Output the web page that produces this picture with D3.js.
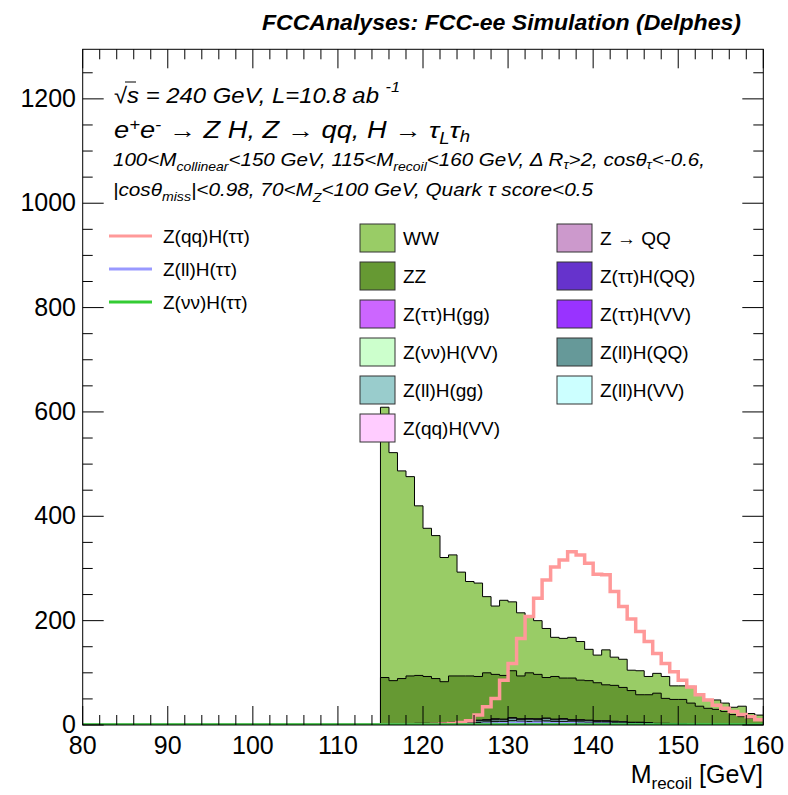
<!DOCTYPE html>
<html><head><meta charset="utf-8">
<script src="https://cdn.jsdelivr.net/npm/d3@7"></script>
<style>body{margin:0;background:#fff}svg{display:block;font-family:"Liberation Sans",Arial,sans-serif}</style>
</head><body><svg id="c" width="788" height="795"></svg>
<script>
// ---------------- data ----------------
const binStart = 115;           // first filled bin (GeV); 1 GeV bins up to 160
const xTicksMajor = [80, 90, 100, 110, 120, 130, 140, 150, 160];
const yTicksMajor = [0, 200, 400, 600, 800, 1000, 1200];

// total stack height (all backgrounds), bins 115..159
const totalStack = [609,522,487,476,420,377,363,321,326,293,275,272,246,228,239,236,215,208,200,185,168,166,168,160,145,134,144,130,126,105,104,93,99,93,75,75,74,59,49,48,42,34,36,22,19];
// ZZ + small backgrounds cumulative, bins 115..159
const zzCum = [91,85,89,94,95,93,89,83,94,94,94,93,100,97,95,104,94,100,97,91,93,90,90,86,85,81,77,76,72,66,58,58,61,51,49,49,42,36,32,30,26,20,16,13,11];
// small backgrounds, bins 115..159
const zttHQQ = [0,0,0,0,0,0,0,0,1,1,1,1,2,2,2,3,2,2,2,2,2,2,2,2,1,1,1,1,1,1,1,1,0,0,0,0,0,0,0,0,0,0,0,0,0];
const zllHQQ = [0,0,0,1,2,2,2,2,2,3,3,4,4,5,5,6,5,5,5,6,5,5,4,4,4,4,4,3,3,2,2,2,2,2,1,1,1,1,0,0,0,0,0,0,0];
const zllHgg = [0,0,0,1,1,1,1,2,2,2,2,3,3,3,3,4,3,4,3,4,3,4,3,3,3,2,2,2,2,2,2,1,1,1,1,1,0,0,0,0,0,0,0,0,0];
const zQQ    = [0,0,0,0,0,0,0,0,0,0,1,1,1,1,1,1,1,1,1,1,1,1,1,1,1,1,1,1,0,0,0,0,0,0,0,0,0,0,0,0,0,0,0,0,0];
const zqqHVV = [0,0,0,0,0,0,0,0,0,0,0,0,0,1,0,0,1,0,1,0,0,0,0,0,0,0,0,0,0,0,0,0,0,0,0,0,0,0,0,0,0,0,0,0,0];
// signals, bins 115..159
const sigZqqHtt = [0,0,0,0,0,0.5,1,2,3,5,8,19,35,51,86,118,166,208,243,278,303,316,332,326,310,289,288,256,227,203,179,160,137,118,102,86,73,58,48,38,32,26,20,16,10];
const sigZllHtt = [0,0,0,0,0,0,0,0,0,0,1,1,2,2,3,3,4,3,4,3,3,3,3,2,2,2,2,1,1,1,1,1,0,0,0,0,0,0,0,0,0,0,0,0,0];
const sigZvvHtt = [0,0,0,0,0,0,0,0,0,0,0,0,0,0,0,0,0,0,0,0,0,0,0,0,0,0,0,0,0,0,0,0,0,0,0,0,0,0,0,0,0,0,0,0,0];

const legendLines = [["Z(qq)H(ττ)","#ff9999"],["Z(ll)H(ττ)","#9999ff"],["Z(νν)H(ττ)","#33cc33"]];
const legendCol1 = [["WW","#99cc66"],["ZZ","#669933"],["Z(ττ)H(gg)","#cc66ff"],["Z(νν)H(VV)","#ccffcc"],["Z(ll)H(gg)","#99cccc"],["Z(qq)H(VV)","#ffccff"]];
const legendCol2 = [["Z → QQ","#cc99cc"],["Z(ττ)H(QQ)","#6633cc"],["Z(ττ)H(VV)","#9933ff"],["Z(ll)H(QQ)","#669999"],["Z(ll)H(VV)","#ccffff"]];

// ---------------- layout ----------------
const svg = d3.select("#c");
const L = 82.7, R = 763.3, T = 49.3, B = 725;
const x = d3.scaleLinear().domain([80,160]).range([L,R]);
const y = d3.scaleLinear().domain([0,1295]).range([B,T]);

// full-range step arrays (80..160), zero outside filled bins
function full(arr){
  const pts = [];
  for(let e=80; e<160; e++){
    const i = e - binStart;
    pts.push([e, (i>=0 && i<arr.length) ? arr[i] : 0]);
  }
  pts.push([160, pts[pts.length-1][1]]);
  return pts;
}
function cum(...arrs){ return arrs[0].map((_,i)=>arrs.reduce((s,a)=>s+a[i],0)); }

const smallSum = cum(zttHQQ,zllHQQ,zllHgg,zQQ,zqqHVV);
const zzOnly = zzCum.map((v,i)=>Math.max(0,v-smallSum[i]));
const wwOnly = totalStack.map((v,i)=>v-zzCum[i]);

// stack order bottom -> top
const layers = [
  {v:zttHQQ, c:"#6633cc"},
  {v:zllHQQ, c:"#669999"},
  {v:zllHgg, c:"#99cccc"},
  {v:zQQ,    c:"#cc99cc"},
  {v:zqqHVV, c:"#ffccff"},
  {v:zzOnly, c:"#669933"},
  {v:wwOnly, c:"#99cc66"}
];
let running = layers[0].v.map(()=>0);
layers.forEach(l=>{ running = running.map((r,i)=>r+l.v[i]); l.cum = running.slice(); });

const clipId = "plotclip";
svg.append("clipPath").attr("id",clipId).append("rect").attr("x",L).attr("y",T).attr("width",R-L).attr("height",B-T);
const g = svg.append("g").attr("clip-path","url(#"+clipId+")");

const area = d3.area().curve(d3.curveStepAfter).x(d=>x(d[0])).y0(y(0)).y1(d=>y(d[1]));
const line = d3.line().curve(d3.curveStepAfter).x(d=>x(d[0])).y(d=>y(d[1]));

// draw largest cumulative first (ROOT THStack style)
layers.slice().reverse().forEach(l=>{
  const pts = full(l.cum);
  g.append("path").attr("d",area(pts)).attr("fill",l.c).attr("stroke","none");
  g.append("path").attr("d",line(pts)).attr("fill","none").attr("stroke","#000").attr("stroke-width",1);
});

// signals
g.append("path").attr("d",line(full(sigZqqHtt))).attr("fill","none").attr("stroke","#ff9999").attr("stroke-width",3.5);
g.append("path").attr("d",line(full(sigZllHtt))).attr("fill","none").attr("stroke","#9999ff").attr("stroke-width",3);
g.append("path").attr("d",line(full(sigZvvHtt))).attr("fill","none").attr("stroke","#33cc33").attr("stroke-width",3.5);

// ---------------- axes / frame ----------------
const ax = svg.append("g").attr("stroke","#000").attr("stroke-width",1);
const xMinor = d3.range(80,160.001,2);
xMinor.forEach(v=>{
  const major = xTicksMajor.includes(v);
  const len = major?19:10;
  ax.append("line").attr("x1",x(v)).attr("x2",x(v)).attr("y1",B).attr("y2",B-len);
  ax.append("line").attr("x1",x(v)).attr("x2",x(v)).attr("y1",T).attr("y2",T+len);
});
const yMinor = d3.range(0,1295,50);
yMinor.forEach(v=>{
  const major = yTicksMajor.includes(v);
  const len = major?21:10;
  ax.append("line").attr("y1",y(v)).attr("y2",y(v)).attr("x1",L).attr("x2",L+len);
  ax.append("line").attr("y1",y(v)).attr("y2",y(v)).attr("x1",R).attr("x2",R-len);
});
svg.append("rect").attr("x",L).attr("y",T).attr("width",R-L).attr("height",B-T).attr("fill","none").attr("stroke","#000").attr("stroke-width",1);

xTicksMajor.forEach(v=>{
  svg.append("text").attr("x",x(v)).attr("y",754).attr("text-anchor","middle").attr("font-size",25).text(v);
});
yTicksMajor.forEach(v=>{
  svg.append("text").attr("x",76).attr("y",y(v)+8).attr("text-anchor","end").attr("font-size",25).text(v);
});

// axis title
const xt = svg.append("text").attr("x",763).attr("y",783).attr("text-anchor","end").attr("font-size",25);
xt.append("tspan").text("M");
xt.append("tspan").attr("font-size",17).attr("dy",6).text("recoil");
xt.append("tspan").attr("dy",-6).text(" [GeV]");

// header
svg.append("text").attr("x",741).attr("y",30).attr("text-anchor","end").attr("font-size",22.5)
  .attr("font-weight","bold").attr("font-style","italic").attr("textLength",479).attr("lengthAdjust","spacingAndGlyphs")
  .text("FCCAnalyses: FCC-ee Simulation (Delphes)");

// info text
function rich(xp, yp, size, len, parts){
  const t = svg.append("text").attr("x",xp).attr("y",yp).attr("font-size",size).attr("font-style","italic")
    .attr("textLength",len).attr("lengthAdjust","spacingAndGlyphs");
  let cur = 0;
  parts.forEach(p=>{
    const s = typeof p === "string" ? {t:p, d:0} : p;
    const ts = t.append("tspan").attr("dy", s.d - cur).text(s.t);
    if(s.d!==0) ts.attr("font-size", size*0.68);
    cur = s.d;
  });
  return t;
}
rich(114,103,22,286,["√s = 240 GeV, L=10.8 ab ",{t:" -1",d:-11}]);
svg.append("line").attr("x1",125).attr("x2",136).attr("y1",82).attr("y2",82).attr("stroke","#000").attr("stroke-width",1);
rich(114,138,23,356,["e",{t:"+",d:-8},"e",{t:"-",d:-8}," → Z H, Z  → qq, H  → τ",{t:"L",d:6},"τ",{t:"h",d:4}]);
rich(113,166,18.5,592,["100<M",{t:"collinear",d:5},"<150 GeV, 115<M",{t:"recoil",d:5},"<160 GeV, Δ R",{t:"τ",d:3},">2, cosθ",{t:"τ",d:3},"<-0.6,"]);
rich(113,196,18.5,480,["|cosθ",{t:"miss",d:5},"|<0.98, 70<M",{t:"Z",d:6},"<100 GeV, Quark  τ score<0.5"]);

// legends
legendLines.forEach((d,i)=>{
  const yy = 236 + i*33;
  svg.append("line").attr("x1",109).attr("x2",152).attr("y1",yy).attr("y2",yy).attr("stroke",d[1]).attr("stroke-width",3);
  svg.append("text").attr("x",163).attr("y",yy+7).attr("font-size",19).text(d[0]);
});
function boxCol(arr, bx){
  arr.forEach((d,i)=>{
    const yc = 238 + i*38;
    svg.append("rect").attr("x",bx).attr("y",yc-14).attr("width",35).attr("height",28).attr("fill",d[1]).attr("stroke","#333").attr("stroke-width",1);
    svg.append("text").attr("x",bx+43).attr("y",yc+7).attr("font-size",19).text(d[0]);
  });
}
boxCol(legendCol1, 360);
boxCol(legendCol2, 557);
</script></body></html>
